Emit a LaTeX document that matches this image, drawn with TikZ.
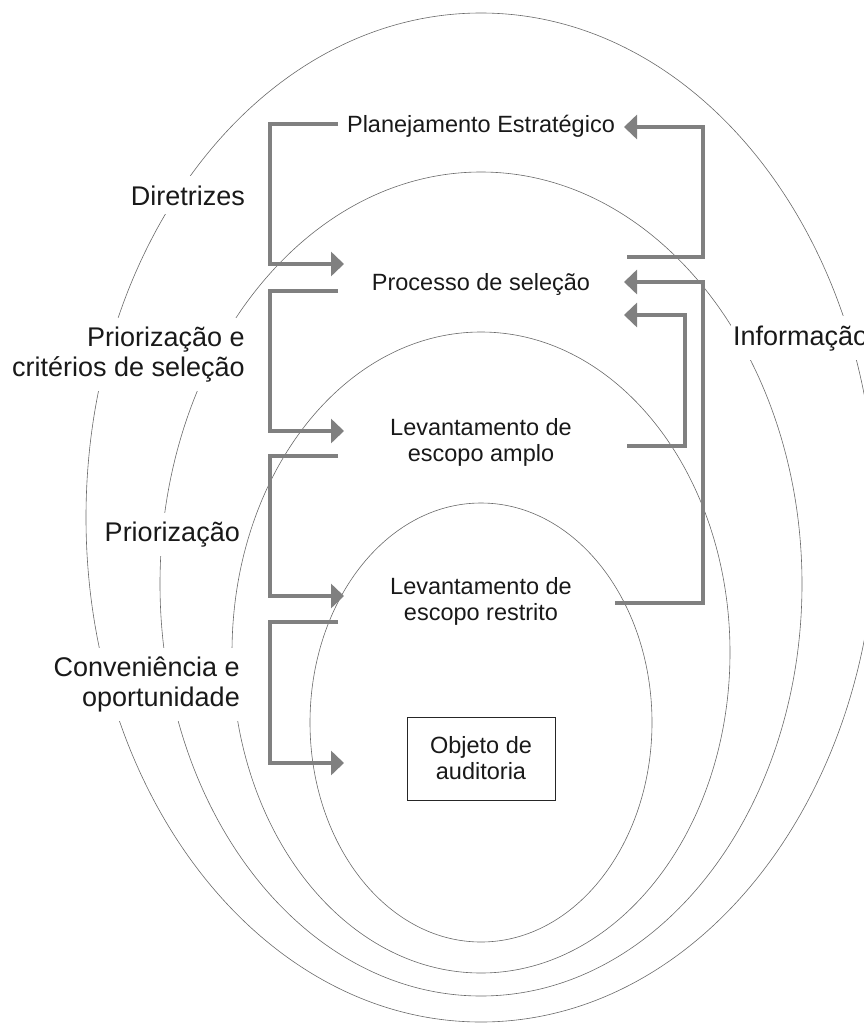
\documentclass[tikz,border=0pt]{standalone}
\usepackage{fontspec}
\setmainfont{Liberation Sans}
\usetikzlibrary{arrows.meta}
\definecolor{conngray}{RGB}{128,128,128}
\definecolor{ellgray}{RGB}{105,105,105}
\begin{document}
\begin{tikzpicture}[x=1pt,y=-1pt,
  ell/.style={draw=ellgray,line width=0.6pt},
  conn/.style={draw=conngray,line width=4.5pt,line join=miter},
  tip/.style={-{Triangle[length=13pt,width=24pt]}},
  side/.style={font=\fontsize{27}{30}\selectfont,fill=white,inner xsep=2pt,inner ysep=9pt,align=right,text=black!90},
  lbl/.style={font=\fontsize{23.5}{26}\selectfont,align=center,inner sep=0pt,text=black!90}]
\useasboundingbox (0,0) rectangle (864,1023);

% nested ellipses
\draw[ell] (481,517.5) ellipse [x radius=395pt, y radius=504.5pt];
\draw[ell] (481,584) ellipse [x radius=321pt, y radius=412pt];
\draw[ell] (481,652.5) ellipse [x radius=249pt, y radius=320.5pt];
\draw[ell] (481,722.5) ellipse [x radius=171pt, y radius=219.5pt];

% side labels
\node[side,anchor=base east] (dir) at (247,205) {Diretrizes};
\node[side,anchor=east] (pricrit) at (247,354.5) {Priorização e\\critérios de seleção};
\node[side,anchor=base east] (prio) at (242,541.7) {Priorização};
\node[side,anchor=east] (conv) at (242,684.5) {Conveniência e\\oportunidade};
\node[side,anchor=base west,align=left] (info) at (731,345) {Informação};

% level labels
\node[lbl,anchor=base] (plan) at (481,132) {Planejamento Estratégico};
\node[lbl,anchor=base] (proc) at (481,290) {Processo de seleção};
\node[lbl] (amplo) at (481,442.7) {Levantamento de\\escopo amplo};
\node[lbl] (restr) at (481,601) {Levantamento de\\escopo restrito};
\node[lbl,draw=black!85,line width=0.8pt,minimum width=148pt,minimum height=83pt] (obj) at (481,758.5) {Objeto de\\auditoria};

% connector ports
\coordinate (busL) at (270,0);
\coordinate (busR1) at (703,0);
\coordinate (busR2) at (685,0);
\coordinate (planOutL) at (338,124);
\coordinate (procInL) at (344,264);
\coordinate (procOutL) at (338,291);
\coordinate (amploInL) at (344,431);
\coordinate (amploOutL) at (338,456);
\coordinate (restrInL) at (344,596);
\coordinate (restrOutL) at (338,622);
\coordinate (objInL) at (344,763);
\coordinate (planInR) at (624,127);
\coordinate (procOutR) at (627,257);
\coordinate (procInR1) at (624,282);
\coordinate (procInR2) at (624,315);
\coordinate (amploOutR) at (627,446);
\coordinate (restrOutR) at (615,603);

% left connectors (downward flow)
\draw[conn,tip] (planOutL) -- (planOutL -| busL) |- (procInL);
\draw[conn,tip] (procOutL) -- (procOutL -| busL) |- (amploInL);
\draw[conn,tip] (amploOutL) -- (amploOutL -| busL) |- (restrInL);
\draw[conn,tip] (restrOutL) -- (restrOutL -| busL) |- (objInL);

% right connectors (information feedback)
\draw[conn,tip] (procOutR) -- (procOutR -| busR1) |- (planInR);
\draw[conn,tip] (amploOutR) -- (amploOutR -| busR2) |- (procInR2);
\draw[conn,tip] (restrOutR) -- (restrOutR -| busR1) |- (procInR1);
\end{tikzpicture}
\end{document}
